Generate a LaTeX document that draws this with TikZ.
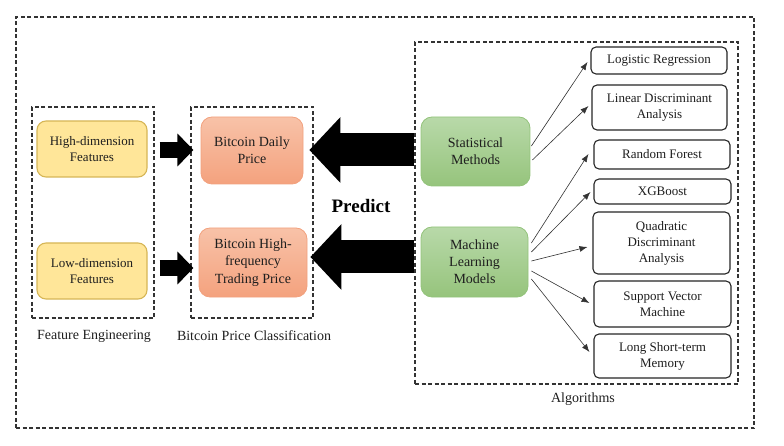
\documentclass[tikz,border=0pt]{standalone}
\usepackage{fontspec}
\setmainfont{Liberation Serif}
\usetikzlibrary{arrows.meta,calc}
\definecolor{yfill}{HTML}{FFE699}
\definecolor{ydraw}{HTML}{D6B656}
\definecolor{otop}{HTML}{F8C2A8}
\definecolor{obot}{HTML}{F4A27E}
\definecolor{odraw}{HTML}{F2A17E}
\definecolor{gtop}{HTML}{B8D9A9}
\definecolor{gbot}{HTML}{96C47C}
\definecolor{gdraw}{HTML}{93C37B}
\definecolor{txt}{HTML}{1E1E1E}
\tikzset{
  every node/.style={text=txt, font=\fontsize{13}{16}\selectfont, align=center, inner sep=0pt},
  big/.style={font=\fontsize{14}{17.2}\selectfont},
  ybox/.style={draw=ydraw, fill=yfill, line width=1.1pt, rounded corners=9pt},
  obox/.style={big, draw=odraw, top color=otop, bottom color=obot, line width=0.8pt, rounded corners=11pt},
  gbox/.style={big, draw=gdraw, top color=gtop, bottom color=gbot, line width=0.8pt, rounded corners=11pt},
  wbox/.style={draw=black!85, fill=white, line width=1.1pt, rounded corners=5pt},
  dbox/.style={draw=black!80, line width=1.1pt, dash pattern=on 4pt off 2.5pt},
  bigarr/.style={draw=black, line width=33pt, -{Triangle[length=31pt,width=64pt]}},
  smallarr/.style={draw=black, line width=16pt, -{Triangle[length=16pt,width=32pt]}},
  thin/.style={draw=black!80, line width=0.6pt, -{Latex[length=8pt,width=6pt]}},
}
\begin{document}
\begin{tikzpicture}[x=1pt,y=-1pt]
\useasboundingbox (0,0) rectangle (784,446);
% dashed frames
\node[dbox, minimum width=738pt, minimum height=411pt] (outer) at (385,222.5) {};
\node[dbox, minimum width=122pt, minimum height=211pt] (fe) at (93,212.5) {};
\node[dbox, minimum width=122pt, minimum height=211pt] (bpc) at (252,212.5) {};
\node[dbox, minimum width=323pt, minimum height=342pt] (alg) at (576.5,213) {};
% frame labels
\node[big] (felab) at (94,336) {Feature Engineering};
\node[big] (bpclab) at (254,336) {Bitcoin Price Classification};
\node[big] (alglab) at (583,399) {Algorithms};
\node[font=\bfseries\fontsize{19}{21}\selectfont, text=black] (pred) at (361,206) {Predict};
% feature boxes
\node[ybox, minimum width=110pt, minimum height=56pt] (hd) at (92,149) {High-dimension\\Features};
\node[ybox, minimum width=110pt, minimum height=56pt] (ld) at (92,271) {Low-dimension\\Features};
% price boxes
\node[obox, minimum width=102pt, minimum height=67pt] (bdp) at (252,150.5) {Bitcoin Daily\\Price};
\node[obox, minimum width=108pt, minimum height=69pt] (bhf) at (253,262.5) {Bitcoin High-\\frequency\\Trading Price};
% method boxes
\node[gbox, minimum width=109pt, minimum height=69pt] (sm) at (475.5,151.5) {Statistical\\Methods};
\node[gbox, minimum width=107pt, minimum height=70pt] (ml) at (474.5,262) {Machine\\Learning\\Models};
% algorithm boxes
\node[wbox, minimum width=136pt, minimum height=27pt] (lr) at (659,60.5) {Logistic Regression};
\node[wbox, minimum width=135pt, minimum height=45pt] (lda) at (659.5,107.5) {Linear Discriminant\\Analysis};
\node[wbox, minimum width=136pt, minimum height=29pt] (rf) at (662,154.5) {Random Forest};
\node[wbox, minimum width=137pt, minimum height=25pt] (xgb) at (662.5,191.5) {XGBoost};
\node[wbox, minimum width=137pt, minimum height=62pt] (qda) at (661.5,243) {Quadratic\\Discriminant\\Analysis};
\node[wbox, minimum width=137pt, minimum height=46pt] (svm) at (662.5,304) {Support Vector\\Machine};
\node[wbox, minimum width=137pt, minimum height=44pt] (lstm) at (662.5,356) {Long Short-term\\Memory};
% small block arrows
\draw[smallarr] ([xshift=12pt,yshift=-1pt]hd.east) -- ([xshift=3pt,yshift=-1pt]hd.east -| bpc.west);
\draw[smallarr] ([xshift=12pt,yshift=3pt]ld.east) -- ([xshift=3pt,yshift=3pt]ld.east -| bpc.west);
% big block arrows
\draw[bigarr] ([yshift=0.5pt]bdp.east -| alg.west) -- ([xshift=6pt,yshift=0.5pt]bdp.east);
\draw[bigarr] ([yshift=5.5pt]bhf.east -| alg.west) -- ([xshift=3pt,yshift=5.5pt]bhf.east);
% thin arrows
\draw[thin] ([xshift=1pt,yshift=5.5pt]sm.east) -- ([xshift=-3pt,yshift=-1.5pt]lr.west);
\draw[thin] ([xshift=2pt,yshift=-8.5pt]sm.east) -- ([xshift=-3pt,yshift=1.5pt]lda.west);
\draw[thin] ([xshift=3pt,yshift=19pt]ml.east) -- ([xshift=-5pt,yshift=0.5pt]rf.west);
\draw[thin] ([xshift=3pt,yshift=10pt]ml.east) -- ([xshift=-3pt,yshift=-0.5pt]xgb.west);
\draw[thin] ([xshift=3pt,yshift=1pt]ml.east) -- ([xshift=-5pt,yshift=-4pt]qda.west);
\draw[thin] ([xshift=3pt,yshift=-9pt]ml.east) -- ([xshift=-4pt,yshift=1pt]svm.west);
\draw[thin] ([xshift=3pt,yshift=-17pt]ml.east) -- ([xshift=-4pt,yshift=4pt]lstm.west);
\end{tikzpicture}
\end{document}
